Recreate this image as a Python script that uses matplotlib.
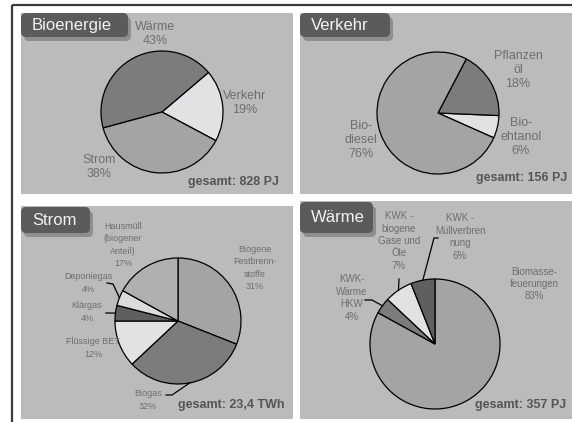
import numpy as np
import matplotlib
matplotlib.use("Agg")
import matplotlib.pyplot as plt
from matplotlib.patches import Rectangle, FancyBboxPatch

plt.rcParams['font.family'] = ['Liberation Sans', 'DejaVu Sans']

# ---- data -------------------------------------------------------------
bio_labels = ['Verkehr', 'Wärme', 'Strom']
bio_values = [19, 43, 38]
bio_total = 'gesamt: 828 PJ'

verkehr_labels = ['Bio-\nehtanol', 'Pflanzen\nöl', 'Bio-\ndiesel']
verkehr_values = [6, 18, 76]
verkehr_total = 'gesamt: 156 PJ'

strom_labels = ['Biogene\nFestbrenn-\nstoffe', 'Biogas', 'Flüssige BET',
                'Klärgas', 'Deponiegas', 'Hausmüll\n(biogener\nAnteil)']
strom_values = [31, 32, 12, 4, 4, 17]
strom_total = 'gesamt: 23,4 TWh'

waerme_labels = ['Biomasse-\nfeuerungen', 'KWK-\nWärme\nHKW',
                 'KWK -\nbiogene\nGase und\nÖle', 'KWK -\nMüllverbren\nnung']
waerme_values = [83, 4, 7, 6]
waerme_total = 'gesamt: 357 PJ'

titles = ['Bioenergie', 'Verkehr', 'Strom', 'Wärme']

# ---- layout (pixel units, y measured from top) ------------------------
W, H = 572, 422
PANEL = '#bbbbbc'
LIGHT, MID, DARK, DARKER, PALE = '#e2e2e4', '#a4a4a5', '#7c7c7d', '#5f5f60', '#b0b0b1'
LABEL_C = '#6e6e6e'


def Y(y):
    return H - y


fig = plt.figure(figsize=(W / 100, H / 100), dpi=100)
fig.patch.set_facecolor('white')
ax = fig.add_axes([0, 0, 1, 1])

# outer frame (top and left edges)
ax.plot([12, W], [Y(5), Y(5)], color='#3c3c3c', lw=1.6, solid_capstyle='butt', zorder=5)
ax.plot([12, 12], [Y(5), Y(H)], color='#3c3c3c', lw=1.6, solid_capstyle='butt', zorder=5)

panels = [(21, 13, 293, 194), (300, 13, W, 194), (21, 206, 293, 419), (300, 201, W, 419)]
for x0, y0, x1, y1 in panels:
    ax.add_patch(Rectangle((x0, Y(y1)), x1 - x0, y1 - y0, facecolor=PANEL,
                           edgecolor='none', zorder=0))

title_boxes = [(21, 13, 128, 37), (300, 13, 390, 37), (21, 207, 90, 233), (300, 202, 373, 233)]
for (x0, y0, x1, y1), t in zip(title_boxes, titles):
    ax.add_patch(FancyBboxPatch((x0 + 3, Y(y1 + 4)), x1 - x0, y1 - y0,
                                boxstyle='round,pad=0,rounding_size=5',
                                facecolor='#8e8e8f', edgecolor='none', zorder=2))
    ax.add_patch(FancyBboxPatch((x0, Y(y1)), x1 - x0, y1 - y0,
                                boxstyle='round,pad=0,rounding_size=5',
                                facecolor='#5b5b5c', edgecolor='none', zorder=3))
    ax.text(x0 + 11, Y((y0 + y1) / 2 + 0.5), t, color='#f2f2f2', fontsize=12,
            ha='left', va='center', zorder=4)

wedge_kw = dict(edgecolor='black', linewidth=0.9)


def draw_pie(values, labels, colors, center, radius, start, ccw, offsets,
             fsize, lsp):
    cx, cy = center
    wedges, _ = ax.pie(values, colors=colors, startangle=start, counterclock=ccw,
                       center=(cx, Y(cy)), radius=radius, wedgeprops=wedge_kw)
    for lab, val, (dx, dy) in zip(labels, values, offsets):
        ax.text(cx + dx, Y(cy + dy), f'{lab}\n{val}%', ha='center', va='center',
                fontsize=fsize, color=LABEL_C, linespacing=lsp, zorder=4)
    return wedges


def edge_point(w):
    mid = np.deg2rad((w.theta1 + w.theta2) / 2)
    cx, cy = w.center
    return cx + w.r * np.cos(mid), cy + w.r * np.sin(mid)


def leader(w, pts):
    ex, ey = edge_point(w)
    xs = [p[0] for p in pts] + [ex]
    ys = [Y(p[1]) for p in pts] + [ey]
    ax.plot(xs, ys, color='black', lw=0.9, zorder=4)


# Bioenergie
draw_pie(bio_values, bio_labels, [LIGHT, DARK, MID], (162, 112), 61, -28, True,
         [(83, -9), (-7, -78), (-63, 55)], 9, 1.25)
ax.text(279, Y(182), bio_total, ha='right', va='center', fontsize=9,
        fontweight='bold', color='#555556', zorder=4)

# Verkehr
draw_pie(verkehr_values, verkehr_labels, [LIGHT, DARK, MID], (438, 113), 61, -24, True,
         [(83, 24), (80, -43), (-77, 27)], 9, 1.25)
ax.text(567, Y(178), verkehr_total, ha='right', va='center', fontsize=9,
        fontweight='bold', color='#555556', zorder=4)

# Strom
sw = draw_pie(strom_values, strom_labels, [MID, DARK, LIGHT, DARKER, '#dcdcdd', PALE],
              (178, 321), 63, 90, False,
              [(77, -53), (-30, 79), (-85, 27), (-91, -9), (-90, -38), (-55, -76)],
              6.5, 1.45)
leader(sw[1], [(166, 395), (172, 395)])
leader(sw[3], [(106, 313)])
leader(sw[4], [(107, 283), (113, 284)])
ax.text(285, Y(405), strom_total, ha='right', va='center', fontsize=9,
        fontweight='bold', color='#555556', zorder=4)

# Wärme
ww = draw_pie(waerme_values, waerme_labels, [MID, DARK, LIGHT, DARKER],
              (435, 344), 65, 90, False,
              [(99, -60), (-83, -46), (-36, -103), (25, -107)], 7, 1.3)
leader(ww[1], [(365, 300), (372, 300)])
leader(ww[2], [(399, 279)])
leader(ww[3], [(438, 238), (434, 238)])
ax.text(566, Y(405), waerme_total, ha='right', va='center', fontsize=9,
        fontweight='bold', color='#555556', zorder=4)

ax.set_xlim(0, W)
ax.set_ylim(0, H)
ax.set_aspect('auto')
ax.axis('off')

fig.savefig('out.png', dpi=100)
